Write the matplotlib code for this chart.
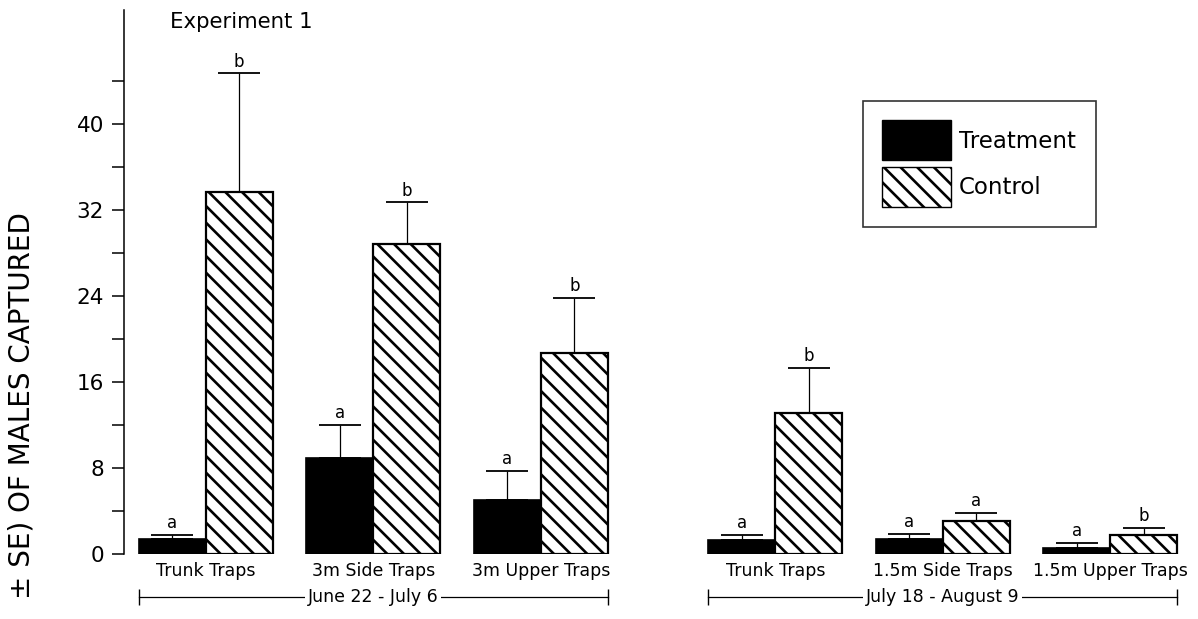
import numpy as np
import matplotlib
matplotlib.use("Agg")
import matplotlib.pyplot as plt
from matplotlib.patches import Patch

# values
groups = ["Trunk Traps", "3m Side Traps", "3m Upper Traps",
          "Trunk Traps", "1.5m Side Traps", "1.5m Upper Traps"]
treatment = [1.4, 8.9, 5.0, 1.3, 1.35, 0.55]
treatment_se = [0.35, 3.1, 2.7, 0.5, 0.5, 0.45]
control = [33.7, 28.8, 18.7, 13.1, 3.1, 1.8]
control_se = [11.0, 3.9, 5.1, 4.2, 0.7, 0.6]
treatment_letters = ["a", "a", "a", "a", "a", "a"]
control_letters = ["b", "b", "b", "b", "a", "b"]
periods = ["June 22 - July 6", "July 18 - August 9"]
period_groups = [[0, 1, 2], [3, 4, 5]]

# layout
centers = np.array([0, 2.5, 5.0, 8.5, 11.0, 13.5])
W, H = 1198, 619

plt.rcParams["font.family"] = "DejaVu Sans"
plt.rcParams["hatch.linewidth"] = 1.9

fig = plt.figure(figsize=(W / 100, H / 100), dpi=100)
ax = fig.add_axes([124 / W, (H - 554) / H, (1190 - 124) / W, 544 / H])

ax.bar(centers - 0.5, treatment, width=1.0, color="black", edgecolor="black", linewidth=1.2)
ax.bar(centers + 0.5, control, width=1.0, color="white", edgecolor="black",
       hatch="\\\\", linewidth=1.6)

zeros = np.zeros(len(centers))
ax.errorbar(centers - 0.5, treatment, yerr=[zeros, treatment_se], fmt="none",
            ecolor="black", elinewidth=0.9, capsize=15, capthick=1.3)
ax.errorbar(centers + 0.5, control, yerr=[zeros, control_se], fmt="none",
            ecolor="black", elinewidth=0.9, capsize=15, capthick=1.3)

for i in range(len(centers)):
    ax.annotate(treatment_letters[i], (centers[i] - 0.5, treatment[i] + treatment_se[i]),
                xytext=(0, 2), textcoords="offset points", ha="center", va="bottom", fontsize=12)
    ax.annotate(control_letters[i], (centers[i] + 0.5, control[i] + control_se[i]),
                xytext=(0, 2), textcoords="offset points", ha="center", va="bottom", fontsize=12)

ax.set_xlim(-1.22, 14.69)
ax.set_ylim(0, 50.6)
ax.set_yticks([0, 8, 16, 24, 32, 40])
ax.set_yticks([4, 12, 20, 28, 36, 44], minor=True)
ax.tick_params(axis="y", which="both", direction="out", length=8.5, width=1.1,
               labelsize=15.5, pad=6)
ax.set_xticks(centers, groups)
ax.tick_params(axis="x", length=0, pad=6, labelsize=12.5)

for s in ["top", "right", "bottom"]:
    ax.spines[s].set_visible(False)
ax.spines["left"].set_linewidth(1.1)

# date brackets under each set of groups
tr = ax.get_xaxis_transform()
ybr = -0.079
for name, idx in zip(periods, period_groups):
    x0 = centers[idx[0]] - 1
    x1 = centers[idx[-1]] + 1
    ax.plot([x0, x1], [ybr, ybr], color="black", lw=0.9, transform=tr, clip_on=False)
    ax.plot([x0, x1], [ybr, ybr], ls="none", marker="|", ms=12, mew=1.0,
            color="black", transform=tr, clip_on=False)
    ax.text((x0 + x1) / 2, ybr, name, transform=tr, ha="center", va="center",
            fontsize=12.5, bbox=dict(facecolor="white", edgecolor="none", pad=2))

fig.text(170 / W, 1 - 28 / H, "Experiment 1", fontsize=15.3, va="baseline", ha="left")
# the label runs off the bottom of the page in the original; only this part shows
fig.text(22 / W, 1 - 212 / H, "± SE) OF MALES CAPTURED", rotation=90,
         ha="center", va="top", fontsize=20)

handles = [Patch(facecolor="black", edgecolor="black"),
           Patch(facecolor="white", edgecolor="black", hatch="\\\\")]
leg = ax.legend(handles, ["Treatment", "Control"], loc="upper left",
                bbox_to_anchor=(863 / W, 1 - 101 / H), bbox_transform=fig.transFigure,
                frameon=True, fancybox=False, edgecolor="black", fontsize=16.5,
                handlelength=3.0, handleheight=2.3, handletextpad=0.35,
                labelspacing=0.3, borderpad=0.85, borderaxespad=0)
leg.get_frame().set_linewidth(1.2)

fig.savefig("out.png", dpi=100, facecolor="white")
